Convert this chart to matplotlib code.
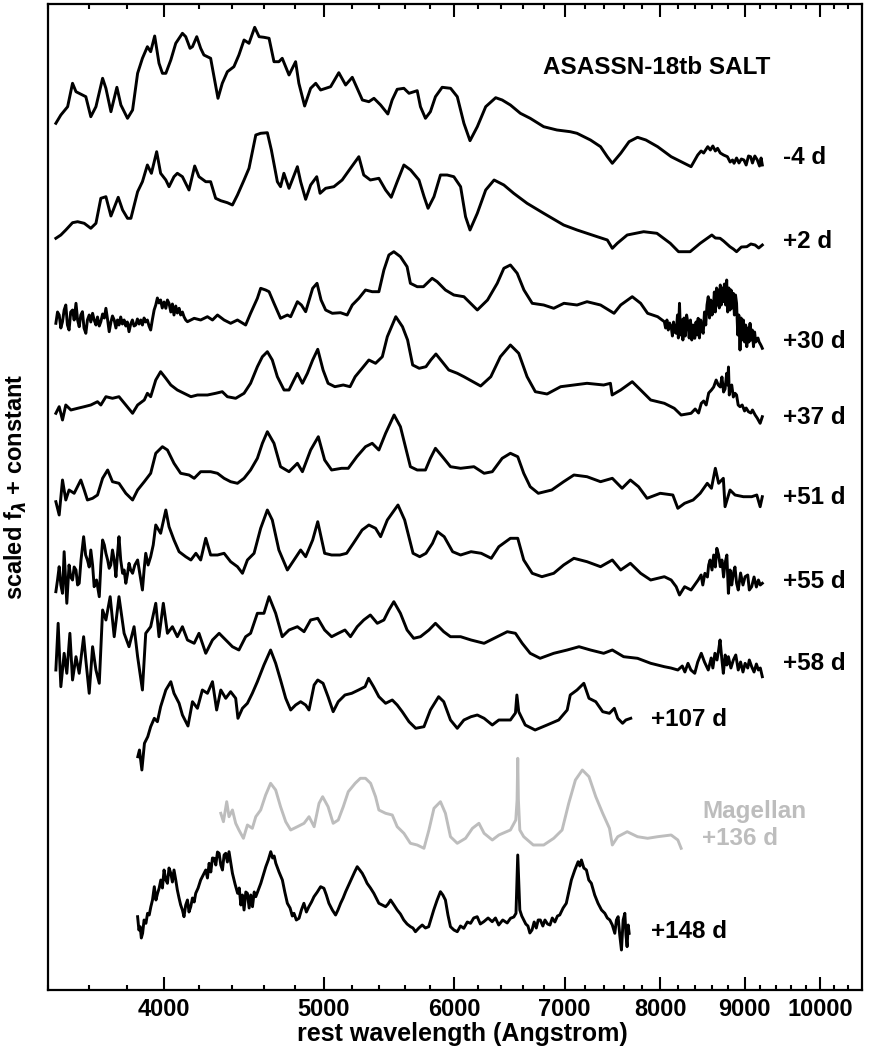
import numpy as np
import matplotlib
matplotlib.use("Agg")
import matplotlib.pyplot as plt
from matplotlib.ticker import FixedLocator, NullFormatter, FixedFormatter

plt.rcParams['font.family'] = ['Liberation Sans', 'DejaVu Sans']
plt.rcParams['font.weight'] = 'bold'
plt.rcParams['mathtext.fontset'] = 'dejavusans'

# ---------------- data: (rest wavelength [A], scaled flux) ----------------
spec_m4 = [(3439,46.7),(3463,55),(3496,63.3),(3520,86.7),(3537,78.3),(3569,75),(3586,73.3),(3611,53.3),(3637,63.3),
 (3671,91.7),(3688,81.7),(3714,58.3),(3745,82.7),(3766,65),(3801,51.7),(3828,60),(3855,96.7),(3881,111.7),(3908,123.3),
 (3926,118.3),(3948,134),(3972,106.7),(3991,96.7),(4010,96.7),(4038,110),(4066,126.7),(4104,136.7),(4123,133.3),
 (4148,121.7),(4162,123.3),(4187,133.3),(4210,121.7),(4229,115),(4269,111.7),(4289,93.3),(4313,71.7),(4339,86.7),
 (4370,98.3),(4410,103.3),(4441,115),(4473,130),(4504,126.7),(4540,142.7),(4568,133.3),(4599,132.7),(4632,131.7),
 (4664,108.3),(4696,108.3),(4718,111.7),(4763,95),(4807,108.3),(4829,86.7),(4868,64),(4909,81.7),(4944,86.7),(4978,80),
 (5013,81.7),(5048,83.3),(5106,97.3),(5155,85),(5203,92.7),(5239,81.7),(5277,70),(5325,68.3),(5363,71.7),(5413,65),
 (5468,56),(5501,70),(5540,80.7),(5592,81.7),(5632,76.7),(5697,79.3),(5723,63.3),(5763,51.7),(5803,58.3),(5844,73.3),
 (5899,82.7),(5969,81.7),(6025,73.3),(6081,46.7),(6133,29.3),(6196,43.3),(6269,63.3),(6357,72.3),(6415,70),(6489,65),
 (6580,56.7),(6671,51.7),(6798,43.3),(6925,40),(7055,38.3),(7122,36.7),(7257,30),(7360,23.3),(7430,13.3),(7482,6.7),
 (7570,16.7),(7659,28.3),(7750,32.7),(7841,30),(7971,23.3),(8123,13.3),(8237,8.3),(8352,3.3),(8430,15),(8470,19),
 (8500,17),(8549,23.3),(8580,20),(8610,24),(8640,19),(8667,21.7),(8700,17),(8740,15),(8787,13.3),(8820,8),(8850,10),
 (8869,6.7),(8900,12),(8930,7),(8960,11),(8992,10),(9020,5),(9050,14),(9076,13.3),(9100,7),(9130,14),(9162,10),
 (9190,4),(9210,12),(9226,5)]

spec_p2 = [(3439,16.7),(3463,20),(3487,25),(3520,32.3),(3545,33.3),(3578,31.7),(3611,26.7),(3637,31.7),(3662,56.7),
 (3688,58.3),(3714,39),(3752,57.7),(3775,45),(3801,36.7),(3819,36.7),(3855,63.3),(3881,73.3),(3908,90),(3930,81.7),
 (3959,103.3),(3981,81.7),(4010,75),(4028,68.3),(4056,78.3),(4075,81.7),(4104,78.3),(4142,65),(4175,89),(4200,78.3),
 (4240,73.3),(4269,73.3),(4299,56.7),(4330,54.3),(4370,52.3),(4401,50),(4432,60),(4473,75),(4504,86.7),(4547,120),
 (4578,121.7),(4621,122.3),(4647,105),(4686,73.3),(4707,68.3),(4729,81.7),(4763,66.7),(4819,88.3),(4841,73.3),
 (4875,55.7),(4909,70),(4951,78.3),(4974,61.7),(5013,66.7),(5071,68.3),(5130,75),(5190,86.7),(5251,98.3),(5287,80),
 (5336,75),(5400,76.7),(5451,65),(5494,57.7),(5540,73.3),(5592,90),(5645,85),(5711,75),(5752,58.3),(5784,46.7),
 (5832,58.3),(5885,80),(5940,80),(5996,78.3),(6053,68.3),(6095,38.3),(6133,25),(6196,41.7),(6269,65),(6343,75),
 (6430,70),(6519,61.7),(6642,51.7),(6798,41.7),(6990,30),(7122,25),(7326,18.3),(7430,15),(7482,6.7),(7534,11.7),
 (7639,20),(7817,23.3),(7963,21.7),(8113,11.7),(8207,3.3),(8341,3.3),(8459,11.7),(8598,20),(8640,17),(8697,16.7),
 (8740,14),(8818,8.3),(8860,6),(8900,3.3),(8960,8),(9028,8.3),(9080,11),(9133,10),(9180,7),(9226,10)]

spec_p30 = [(3439,26.7),(3447,38),(3455,35),(3463,22),(3471,28.3),(3479,40),(3487,45),(3495,25),(3503,20),(3511,38),
 (3520,40),(3528,30),(3537,46.7),(3545,30),(3553,23.3),(3561,35),(3569,38.3),(3577,22),(3586,16.7),(3594,30),(3603,35),
 (3611,28),(3620,36.7),(3628,30),(3637,25),(3645,33),(3654,24),(3662,28.3),(3671,36),(3680,32),(3688,41.7),(3697,30),
 (3705,18.3),(3714,28),(3722,34),(3731,30),(3740,22),(3748,30),(3756,25),(3765,33),(3774,26),(3783,30),(3792,24),
 (3800,28),(3809,18.3),(3818,26),(3827,30),(3836,24),(3845,25),(3854,31),(3863,26),(3872,30),(3881,25),(3890,32),
 (3899,28),(3908,30),(3917,24),(3926,20),(3935,30),(3945,40),(3954,45),(3963,52),(3972,47),(3981,50),(3990,42),
 (4000,48),(4010,41.7),(4019,50),(4028,46.7),(4038,38),(4047,46),(4056,35),(4066,44),(4075,37),(4085,41.7),(4094,35),
 (4104,38),(4113,33.3),(4123,30),(4133,28.3),(4172,31.7),(4210,30),(4250,33.3),(4280,30),(4310,35),(4350,30),
 (4390,26.7),(4432,30),(4483,25),(4514,36.7),(4557,51.7),(4578,61.7),(4610,60),(4632,58.3),(4664,46.7),(4707,31.7),
 (4752,35),(4774,33.3),(4819,48.3),(4846,45),(4875,38.3),(4923,61.7),(4953,66.7),(4981,50),(5013,40),(5060,36.7),
 (5118,37.3),(5166,35),(5203,45),(5251,51.7),(5300,60),(5350,58.3),(5400,58.3),(5438,80),(5476,95),(5514,98.3),
 (5565,93.3),(5617,83.3),(5643,66.7),(5697,63.3),(5747,63.3),(5817,71.7),(5858,68.3),(5926,60),(5996,55),(6081,53.3),
 (6196,40),(6285,50),(6371,66.7),(6430,81.7),(6489,85),(6551,76.7),(6613,60),(6690,46.7),(6798,45),(6894,41.7),
 (6993,46.7),(7122,45),(7222,48.3),(7360,45),(7500,36.7),(7570,45),(7693,53.3),(7784,46.7),(7860,36.7),(7971,33.3),
 (8046,28.3),(8060,22),(8075,30),(8090,20),(8105,27),(8123,23.3),(8137,14),(8150,28),(8165,18),(8180,16.7),(8195,35),
 (8205,12),(8218,46.7),(8230,15),(8244,30),(8257,10),(8270,32),(8285,14),(8300,35),(8316,26.7),(8330,12),(8345,30),
 (8360,10),(8375,25),(8395,11.7),(8410,28),(8422,15),(8435,31.7),(8450,12),(8465,30),(8480,20),(8495,16.7),(8510,38),
 (8525,25),(8540,45),(8555,53.3),(8570,32),(8585,50),(8600,35),(8614,40),(8628,58),(8640,38),(8655,62),(8666,45),
 (8676,60),(8688,42),(8700,65),(8712,45),(8725,62),(8737,48.3),(8750,66),(8765,45),(8778,70),(8790,38),(8805,62),
 (8819,40),(8832,60),(8846,42),(8860,56.7),(8873,35),(8887,55),(8900,46.7),(8915,15),(8928,35),(8943,0),(8957,32),
 (8970,10),(8985,30),(9000,8),(9014,25),(9028,3.3),(9042,22),(9055,8),(9069,26.7),(9083,10),(9098,20),(9113,3.3),
 (9127,18),(9141,8),(9155,10),(9170,12),(9185,8),(9200,6),(9213,4),(9226,1.7)]

spec_p37 = [(3439,11.7),(3455,18.3),(3471,5),(3487,20),(3512,15),(3545,16.7),(3578,18.3),(3611,20),(3645,23.3),
 (3662,20),(3688,28.3),(3722,26.7),(3756,28.3),(3792,20),(3828,11.7),(3855,20),(3891,25),(3908,31.7),(3926,28.3),
 (3954,45),(3981,53.3),(4010,46.7),(4038,40),(4075,35),(4113,31.7),(4153,28.3),(4191,30),(4250,30),(4299,31.7),
 (4339,33.3),(4370,28.3),(4421,26.7),(4473,31.7),(4514,41.7),(4557,58.3),(4589,68.3),(4621,73.3),(4653,65),
 (4686,48.3),(4730,35),(4763,35),(4796,45),(4819,51.7),(4853,41.7),(4887,51.7),(4923,65),(4958,75.7),(4995,55),
 (5030,41.7),(5078,38.3),(5138,40),(5187,38.3),(5224,48.3),(5275,56.7),(5325,65),(5375,61.7),(5426,68.3),(5464,88.3),
 (5529,108.3),(5581,98.3),(5621,85),(5661,60),(5713,56.7),(5767,58.3),(5806,65),(5848,71),(5899,63.3),(5954,55),
 (6025,51.7),(6081,48.3),(6225,39),(6314,48.3),(6399,68.3),(6489,80),(6565,71.7),(6642,48.3),(6719,33.3),(6830,31),
 (6961,38.3),(7091,40),(7222,41.7),(7392,40),(7462,41.7),(7480,30),(7570,35),(7693,43.3),(7784,35),(7894,25),
 (8046,21.7),(8158,16.7),(8237,10),(8352,11.7),(8400,16),(8440,12),(8472,21.7),(8500,24),(8530,20),(8560,32),
 (8593,35),(8620,38),(8650,45),(8676,40),(8700,38),(8720,48),(8740,33),(8758,36),(8778,51.7),(8790,40),(8800,58),
 (8810,30),(8819,35),(8840,40),(8860,28),(8881,31.7),(8900,30),(8920,20),(8943,18.3),(8970,20),(9000,14),(9020,17),
 (9049,13.3),(9080,12),(9100,15),(9134,10),(9160,7),(9198,1.7),(9226,8.3)]

spec_p51 = [(3439,8.3),(3455,-5),(3471,30),(3487,10),(3503,20),(3528,16.7),(3561,30),(3578,20),(3594,10),(3620,11.7),
 (3645,15),(3671,31.7),(3697,40),(3722,28.3),(3756,26.7),(3792,16.7),(3828,10),(3855,20),(3891,28.3),(3926,36.7),
 (3954,56.7),(3991,63.3),(4019,60),(4056,46.7),(4094,36.7),(4142,35),(4172,31.7),(4210,38.3),(4269,38.3),(4310,36.7),
 (4350,31.7),(4390,28.3),(4432,26.7),(4473,31.7),(4514,40),(4557,51.7),(4589,66.7),(4621,78.3),(4664,66.7),
 (4707,43.3),(4763,38.3),(4819,46.7),(4853,38.3),(4909,60),(4962,73.3),(5006,50),(5055,40),(5126,41.7),(5174,41.7),
 (5236,53.3),(5300,63.3),(5350,66.7),(5400,60),(5451,76.7),(5516,95),(5565,83.3),(5643,43.3),(5697,40),(5763,40),
 (5803,51.7),(5844,61.7),(5912,51.7),(5968,43.3),(6053,41.7),(6167,43.3),(6255,36.7),(6327,38.3),(6415,51.7),
 (6489,56.7),(6556,53.3),(6611,36.7),(6671,23.3),(6747,16.7),(6875,20),(6990,28.3),(7091,35),(7222,33.3),(7360,28.3),
 (7482,31.7),(7585,21.7),(7673,30),(7761,23.3),(7854,11.7),(8000,16.7),(8142,15),(8199,1.7),(8277,6.7),(8376,10),
 (8459,16.7),(8543,26.7),(8593,21.7),(8640,41.7),(8680,26.7),(8737,31.7),(8758,3.3),(8819,20),(8881,15),(8985,13.3),
 (9090,13.3),(9155,15),(9198,3.3),(9226,13.3)]

spec_p55 = [(3439,13.3),(3447,25),(3455,38.3),(3463,20),(3471,11.7),(3479,53.3),(3492,1.7),(3503,40),(3511,28),
 (3520,25),(3528,38),(3537,35),(3545,20),(3553,21.7),(3562,45),(3575,68.3),(3585,50),(3594,45),(3603,38),(3611,55),
 (3620,40),(3628,18.3),(3640,25),(3654,8.3),(3662,40),(3671,65),(3680,60),(3688,51.7),(3697,45),(3705,36.7),(3713,40),
 (3722,55),(3731,45),(3740,28.3),(3748,50),(3756,68.3),(3765,45),(3775,31.7),(3783,35),(3792,21.7),(3800,30),
 (3809,41.7),(3818,35),(3828,31.7),(3840,40),(3855,45),(3868,30),(3881,15),(3890,35),(3899,51.7),(3912,40),(3926,48.3),
 (3940,60),(3954,80),(3981,71.7),(4010,95),(4028,78.3),(4056,65),(4085,53.3),(4123,48.3),(4153,45),(4182,51.7),
 (4210,45),(4240,66.7),(4269,50),(4310,50),(4350,51.7),(4390,43.3),(4432,38.3),(4463,31.7),(4494,45),(4536,51.7),
 (4578,76.7),(4621,95),(4653,85),(4696,55),(4752,35),(4796,45),(4841,55),(4875,48.3),(4923,65),(4958,83.3),
 (5006,51.7),(5055,50),(5114,50),(5162,51.7),(5211,61.7),(5275,75),(5325,80),(5375,76.7),(5413,68.3),(5464,85),
 (5546,100),(5598,85),(5664,51.7),(5717,48.3),(5767,51.7),(5820,61.7),(5861,73.3),(5916,68.3),(5986,53.3),(6053,50),
 (6142,53.3),(6230,51.7),(6318,46.7),(6385,58.3),(6489,66.7),(6556,66.7),(6611,45),(6690,31.7),(6781,28.3),
 (6894,31.7),(6990,40),(7091,46.7),(7222,43.3),(7360,38.3),(7482,45),(7570,35),(7673,41.7),(7784,31.7),(7894,25),
 (8046,28.3),(8123,25),(8180,18.3),(8218,10),(8277,18.3),(8352,15),(8435,25),(8470,30),(8490,20),(8515,31.7),
 (8545,28),(8560,40),(8577,45),(8600,35),(8620,50),(8640,38),(8658,56.7),(8680,50),(8700,38.3),(8720,45),(8740,28),
 (8758,41.7),(8780,50),(8799,11.7),(8820,35),(8840,20),(8860,31.7),(8880,38),(8900,22),(8921,15),(8950,32),(8980,20),
 (9007,28.3),(9040,30),(9060,15),(9090,18.3),(9120,28),(9150,18),(9176,25),(9200,20),(9226,21.7)]

spec_p58 = [(3439,20),(3450,66.7),(3463,3.3),(3479,36.7),(3492,16.7),(3507,56.7),(3520,10),(3537,33.3),(3553,16.7),
 (3575,53.3),(3586,30),(3603,-3.3),(3620,43.3),(3637,20),(3654,6.7),(3671,80),(3688,70),(3710,93.3),(3731,53.3),
 (3756,93.3),(3783,56.7),(3809,43.3),(3836,63.3),(3855,33.3),(3881,0),(3899,56.7),(3926,63.3),(3954,86.7),
 (3972,53.3),(3996,86.7),(4019,56.7),(4047,63.3),(4075,53.3),(4104,63.3),(4133,50),(4172,46.7),(4200,56.7),
 (4240,36.7),(4280,50),(4320,56.7),(4360,50),(4401,43.3),(4441,40),(4483,53.3),(4514,56.7),(4557,76.7),(4599,76.7),
 (4632,93.3),(4675,76.7),(4718,53.3),(4763,60),(4819,63.3),(4864,58.3),(4909,70),(4958,71.7),(5006,60),(5055,53.3),
 (5102,56.7),(5150,60),(5190,53.3),(5239,63.3),(5287,70),(5336,75),(5388,66.7),(5438,70),(5476,80),(5514,88.3),
 (5565,76.7),(5617,60),(5669,51.7),(5723,53.3),(5791,60),(5844,66.7),(5912,58.3),(5968,53.3),(6053,53.3),(6142,50),
 (6255,46.7),(6343,51.7),(6461,58.3),(6535,56.7),(6597,46.7),(6671,36.7),(6764,31.7),(6894,36.7),(7025,40),
 (7142,43.3),(7257,40),(7392,36.7),(7482,40),(7601,33.3),(7750,31.7),(7894,26.7),(8046,23.3),(8120,22),(8199,20),
 (8250,24),(8280,18),(8316,26.7),(8350,20),(8395,16.7),(8430,28),(8472,36.7),(8510,28),(8555,20),(8590,32),(8610,22),
 (8635,36.7),(8660,30),(8680,40),(8697,50),(8720,30),(8737,16.7),(8760,35),(8780,25),(8799,33.3),(8830,22),(8860,30),
 (8890,35),(8921,20),(8950,28),(8980,18),(9007,26.7),(9040,22),(9060,30),(9090,23.3),(9120,18),(9150,26),(9176,20),
 (9200,22),(9226,13.3)]

spec_p107 = [(3856,18.3),(3865,25),(3878,5),(3892,31.7),(3910,38.3),(3926,48.3),(3946,56.7),(3963,53.3),(3981,68.3),
 (4010,85),(4038,93.3),(4056,81.7),(4085,71.7),(4104,60),(4136,49),(4162,73.3),(4191,66.7),(4220,85),(4250,81.7),
 (4280,93.3),(4305,65),(4330,85),(4360,76.7),(4390,83.3),(4421,76.7),(4435,56.7),(4463,66.7),(4494,71.7),(4525,81.7),
 (4557,93.3),(4599,110),(4642,125),(4675,111.7),(4707,95),(4741,76.7),(4774,65),(4807,70),(4841,73.3),(4875,70),
 (4898,65),(4933,90),(4958,95),(4995,91.7),(5030,78.3),(5066,63.3),(5102,73.3),(5150,80),(5199,81.7),(5249,85),
 (5297,88.3),(5323,96.7),(5360,88.3),(5400,78.3),(5451,71.7),(5502,75),(5540,70),(5579,63.3),(5632,53.3),(5685,46.7),
 (5751,48.3),(5803,65),(5870,78.3),(5912,73.3),(5968,55),(6025,46.7),(6081,55),(6142,58.3),(6196,60),(6255,56.7),
 (6327,50),(6385,55),(6489,55),(6535,62),(6548,80),(6565,63.3),(6625,50),(6717,45),(6830,50),(6942,55),(7025,65),
 (7055,80),(7122,85),(7190,91.7),(7242,76.7),(7311,73.3),(7382,63.3),(7452,61.7),(7503,66.7),(7539,56.7),(7590,51.7),
 (7625,55),(7677,56.7)]

spec_mag136 = [(4330,36.7),(4346,28.3),(4366,48.3),(4380,33.3),(4401,40),(4421,26.7),(4441,20),(4469,11.7),(4494,25),
 (4525,21.7),(4547,33.3),(4578,40),(4610,55),(4642,66.7),(4675,60),(4707,43.3),(4741,28.3),(4774,20),(4819,23.3),
 (4864,26.7),(4898,33.3),(4933,23.3),(4967,46.7),(4992,53.3),(5030,43.3),(5066,26.7),(5102,30),(5138,43.3),
 (5174,58.3),(5224,66.7),(5262,71.7),(5300,71.7),(5338,66.7),(5375,53.3),(5400,40),(5451,36.7),(5502,35),(5540,23.3),
 (5592,16.7),(5643,6.7),(5697,5),(5751,1.7),(5791,20),(5832,41.7),(5885,48.3),(5926,36.7),(5968,13.3),(6025,6.7),
 (6095,11.7),(6154,21.7),(6210,26.7),(6255,16.7),(6327,10),(6385,15),(6489,20),(6538,30),(6550,50),(6556,91.7),
 (6562,50),(6575,20),(6611,13.3),(6700,5),(6798,5),(6894,11.7),(6975,20),(7040,46.7),(7106,70),(7175,80),(7242,73.3),
 (7311,53.3),(7382,36.7),(7452,21.7),(7482,5),(7539,13.3),(7639,18.3),(7750,13.3),(7860,11.7),(7971,13.3),(8123,15),
 (8199,10),(8237,1.7)]

spec_p148 = [(3855,33.3),(3862,20),(3869,23.3),(3875,12),(3882,16.7),(3890,30),(3900,26.7),(3909,36.7),(3918,35),
 (3927,43.3),(3936,50),(3946,63.3),(3955,50),(3964,56.7),(3973,62),(3982,70),(3991,62),(4000,80),(4010,70),(4019,66.7),
 (4028,82),(4038,76.7),(4047,68),(4056,80),(4066,70),(4075,60),(4085,51.7),(4094,45),(4104,40),(4113,33.3),(4123,45),
 (4133,50),(4142,38),(4152,43.3),(4162,52),(4172,48),(4181,56.7),(4195,62),(4210,70),(4225,75),(4240,80),(4250,72),
 (4260,86.7),(4270,78),(4280,92),(4290,91.7),(4300,85),(4310,98),(4320,96.7),(4330,85),(4340,80),(4350,95),
 (4360,96.7),(4370,88),(4380,98.3),(4390,88),(4401,76.7),(4417,66),(4433,56.7),(4443,62),(4453,45),(4463,55),
 (4473,40),(4484,58),(4494,56.7),(4505,42),(4515,55),(4526,43.3),(4537,58),(4547,53.3),(4563,60),(4579,66.7),
 (4595,75),(4611,83.3),(4627,90),(4643,98.3),(4655,92),(4665,94),(4676,86.7),(4697,78),(4719,70),(4735,58),
 (4752,46.7),(4770,42),(4785,34),(4796,36.7),(4812,30),(4830,31.7),(4846,40),(4863,46.7),(4880,38),(4897,43.3),
 (4915,48),(4932,53.3),(4955,58),(4978,63.3),(5001,61.7),(5018,55),(5036,46.7),(5060,40),(5083,35),(5100,40),
 (5119,46.7),(5137,52),(5155,58.3),(5180,66),(5203,73.3),(5220,78),(5239,83.3),(5258,80),(5276,76.7),(5294,72),
 (5312,66.7),(5337,62),(5362,56.7),(5380,52),(5400,46.7),(5425,45),(5451,43.3),(5470,46),(5489,50),(5515,45),
 (5540,40),(5565,36),(5591,30),(5617,26),(5644,23.3),(5663,22),(5683,18.3),(5710,22),(5737,25),(5763,22),(5789,23.3),
 (5810,32),(5830,40),(5858,50),(5885,58.3),(5905,55),(5926,50),(5947,35),(5968,23.3),(5997,20),(6025,18.3),(6052,24),
 (6080,21.7),(6110,28),(6138,26.7),(6165,32),(6195,33.3),(6222,26),(6252,28.3),(6290,32),(6326,28.3),(6355,32),
 (6384,25),(6420,30),(6460,27),(6490,31.7),(6520,33),(6540,36.7),(6556,95),(6575,40),(6593,34),(6611,30),(6630,26),
 (6650,24),(6668,17),(6688,20),(6708,28),(6728,22),(6746,30),(6766,30),(6790,24),(6810,30),(6835,26),(6858,25),
 (6880,32),(6905,28),(6930,34),(6952,35),(6985,42),(7016,46.7),(7040,58),(7066,70),(7100,80),(7133,88.3),(7150,84),
 (7166,90),(7190,82),(7216,80),(7240,70),(7266,66.7),(7300,55),(7334,46.7),(7370,40),(7404,36.7),(7430,32),(7456,30),
 (7482,25),(7508,16.7),(7525,30),(7543,33.3),(7560,15),(7578,0),(7596,30),(7614,36.7),(7626,15),(7638,3.3),(7650,25),
 (7660,16.7)]

spectra = [spec_m4, spec_p2, spec_p30, spec_p37, spec_p51, spec_p55, spec_p58, spec_p107, spec_mag136, spec_p148]
offsets = [820, 735, 640, 565, 480, 385, 300, 215, 140, 40]
colors = ['black'] * 8 + ['#bdbdbd', 'black']

labels = ['-4 d', '+2 d', '+30 d', '+37 d', '+51 d', '+55 d', '+58 d', '+107 d', 'Magellan\n+136 d', '+148 d']
label_x = [9500, 9500, 9500, 9500, 9500, 9500, 9500, 7900, 8480, 7900]
label_y = [833, 748, 648, 573, 493, 408, 327, 270, 165, 58]

major_ticks = [4000, 5000, 6000, 7000, 8000, 9000, 10000]
minor_ticks = [3400, 3600, 3800, 4200, 4400, 4600, 4800, 5200, 5400, 5600, 5800, 6200, 6400, 6600, 6800,
               7200, 7400, 7600, 7800, 8200, 8400, 8600, 8800, 9200, 9400, 9600, 9800, 10200, 10400]

# ---------------- figure ----------------
fig = plt.figure(figsize=(8.69, 10.5), dpi=100)
ax = fig.add_axes([47.7/869, 60/1050, (861.7-47.7)/869, 986/1050])

for spec, off, col in zip(spectra, offsets, colors):
    arr = np.array(spec, dtype=float)
    ax.plot(arr[:, 0], arr[:, 1] + off, color=col, lw=2.1, solid_joinstyle='round')

for lab, lx, ly, col in zip(labels, label_x, label_y, colors):
    ax.text(lx, ly, lab, color=col, fontsize=17.5, fontweight='bold', ha='left', va='center',
            linespacing=1.2)

ax.text(6790, 922, 'ASASSN-18tb SALT', fontsize=17.5, fontweight='bold', ha='left', va='center')

ax.set_xscale('log')
ax.set_xlim(3400, 10600)
ax.set_ylim(0, 986)
ax.xaxis.set_major_locator(FixedLocator(major_ticks))
ax.xaxis.set_major_formatter(FixedFormatter([str(t) for t in major_ticks]))
ax.xaxis.set_minor_locator(FixedLocator(minor_ticks))
ax.xaxis.set_minor_formatter(NullFormatter())
ax.tick_params(axis='x', which='major', direction='in', length=9.5, width=1.5, top=True, pad=6,
               labelsize=17)
ax.tick_params(axis='x', which='minor', direction='in', length=3.5, width=1.5, top=True)
ax.tick_params(axis='y', left=False, right=False, labelleft=False)
for lbl in ax.get_xticklabels():
    lbl.set_fontweight('bold')
for s in ax.spines.values():
    s.set_linewidth(1.6)

fig.text(462/869, 1 - 1034/1050, 'rest wavelength (Angstrom)', fontsize=18, fontweight='bold',
         ha='center', va='center')
fig.text(16/869, 1 - 487/1050, r'scaled f$_\lambda$ + constant', fontsize=17, fontweight='bold',
         ha='center', va='center', rotation=90)

fig.savefig('out.png', dpi=100)
